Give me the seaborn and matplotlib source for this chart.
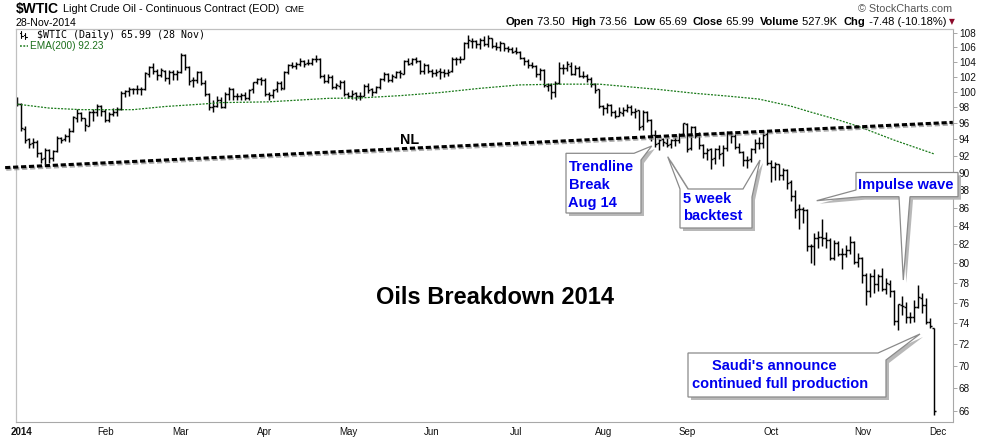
import numpy as np
import pandas as pd
import seaborn as sns
import matplotlib.pyplot as plt
import matplotlib.patheffects as pe
from matplotlib.lines import Line2D
from matplotlib.patches import Polygon
from matplotlib.ticker import FixedLocator, FixedFormatter, NullLocator

W, H = 990, 438

# $WTIC daily bars, 31-Dec-2013 .. 28-Nov-2014, one line per month
opens = [
    99.2,
    98.4, 95.3, 94.0, 93.6, 93.7, 92.3, 91.7, 92.7, 91.8, 92.6, 94.2, 94.0, 94.4, 95.0, 96.7, 97.3, 96.6, 95.7, 97.4, 97.4, 98.2,
    97.5, 96.4, 97.2, 97.4, 97.8, 99.9, 100.1, 100.4, 100.4, 100.3, 100.3, 102.4, 103.3, 102.7, 102.2, 102.8, 101.8, 102.6, 102.4,
    102.6, 104.9, 103.3, 101.5, 101.6, 102.6, 101.1, 99.7, 98.0, 98.2, 98.9, 98.1, 99.7, 100.4, 99.5, 99.5, 99.6, 99.2, 100.3, 101.3, 101.7,
    101.6, 99.7, 99.6, 100.3, 101.1, 100.4, 102.6, 103.6, 103.4, 103.7, 104.1, 103.8, 103.8, 104.3, 104.4, 102.1, 101.4, 101.9, 100.6, 100.8, 101.3,
    99.7, 99.4, 99.8, 99.5, 99.5, 100.8, 100.3, 100.0, 100.6, 101.7, 102.4, 101.5, 102.0, 102.6, 102.4, 104.1, 103.8, 104.4, 104.1, 102.7, 103.6,
    102.7, 102.5, 102.7, 102.6, 102.5, 102.7, 104.4, 104.4, 104.4, 106.5, 106.9, 106.9, 106.4, 107.0, 106.4, 107.3, 106.2, 106.0, 106.5, 105.8, 105.7,
    105.4, 105.3, 104.5, 104.1, 103.5, 103.4, 102.3, 102.9, 100.8, 100.9, 100.0, 101.2, 103.2, 103.1, 103.4, 102.4, 103.1, 102.1, 102.1, 101.7, 101.0, 100.3,
    98.2, 97.9, 98.3, 97.4, 96.9, 97.3, 97.7, 98.1, 97.4, 97.6, 95.6, 97.4, 96.4, 94.5, 93.5, 94.0, 93.6, 93.4, 93.9, 93.9, 94.6,
    95.9, 92.9, 95.5, 94.5, 93.3, 92.3, 92.8, 91.7, 92.8, 92.3, 92.9, 94.9, 94.4, 93.1, 92.4, 91.5, 91.6, 92.8, 93.6, 93.5, 94.6,
    91.2, 90.7, 91.0, 89.7, 90.3, 88.9, 87.3, 85.8, 85.8, 85.7, 81.8, 81.8, 82.7, 82.8, 82.7, 82.5, 80.5, 82.1, 81.0, 81.0, 81.4, 82.2, 80.1,
    80.5, 78.8, 77.2, 78.7, 77.9, 78.7, 77.4, 77.9, 77.2, 74.2, 75.8, 75.6, 74.6, 74.6, 75.6, 76.5, 75.8, 74.1, 73.5,
]
highs = [
    99.3,
    98.6, 95.6, 94.2, 94.2, 93.9, 92.5, 92.9, 92.8, 92.7, 94.4, 94.3, 94.6, 95.4, 96.9, 97.8, 97.4, 96.7, 97.5, 97.8, 98.4, 98.3,
    97.8, 97.4, 97.9, 98.0, 100.1, 100.2, 100.6, 100.5, 100.9, 100.6, 102.6, 103.4, 103.8, 103.0, 103.2, 102.9, 102.9, 102.9, 102.9,
    105.2, 105.0, 103.4, 101.9, 102.8, 102.7, 101.5, 99.8, 99.0, 99.4, 99.3, 100.0, 100.6, 100.5, 99.8, 99.9, 100.0, 100.4, 101.3, 101.8, 101.9,
    101.8, 100.0, 100.4, 101.4, 101.4, 102.7, 103.7, 104.0, 104.0, 104.5, 104.2, 104.3, 104.5, 104.9, 104.5, 102.3, 102.3, 102.2, 101.2, 101.5, 101.5,
    100.0, 100.2, 100.0, 100.0, 101.0, 101.1, 100.5, 100.8, 101.8, 102.6, 102.5, 102.3, 102.8, 102.9, 104.2, 104.5, 104.5, 104.6, 104.2, 103.8, 103.7,
    103.0, 103.0, 103.1, 103.0, 103.0, 104.7, 104.6, 104.8, 106.7, 107.7, 107.2, 107.0, 107.2, 107.5, 107.7, 107.3, 106.7, 106.8, 106.6, 106.2, 106.0,
    106.0, 105.5, 104.6, 104.3, 104.0, 103.5, 103.2, 103.0, 101.2, 101.2, 101.4, 103.9, 103.7, 104.1, 104.0, 103.6, 103.4, 102.7, 102.4, 101.9, 101.2, 100.3,
    98.3, 98.6, 98.4, 97.6, 98.1, 98.1, 98.4, 98.3, 97.9, 97.7, 97.6, 97.5, 96.5, 95.1, 94.0, 94.1, 94.1, 94.0, 94.3, 94.8, 96.0,
    96.0, 95.6, 95.6, 94.9, 93.4, 93.0, 92.9, 93.0, 93.3, 93.3, 95.0, 95.0, 94.6, 93.5, 92.6, 92.0, 93.0, 94.0, 94.3, 95.2, 94.9,
    91.5, 91.3, 91.0, 90.6, 90.4, 89.2, 88.0, 86.4, 86.1, 85.9, 82.0, 83.2, 83.4, 84.7, 83.3, 82.7, 82.4, 82.3, 81.6, 81.9, 82.9, 82.3, 81.1,
    80.6, 79.0, 79.0, 79.4, 78.9, 79.5, 78.5, 78.3, 77.3, 75.9, 76.7, 76.1, 75.1, 76.3, 77.8, 77.0, 76.5, 74.5, 73.56,
]
lows = [
    98.2,
    95.0, 93.6, 92.9, 93.0, 91.9, 91.2, 91.0, 91.2, 91.4, 92.4, 93.5, 93.8, 93.7, 94.9, 96.2, 96.3, 95.0, 95.6, 96.3, 96.9, 96.9,
    96.1, 96.2, 96.9, 96.9, 97.6, 99.3, 99.4, 99.7, 99.7, 99.6, 100.2, 102.0, 102.3, 101.6, 101.9, 101.4, 101.0, 101.6, 101.6,
    102.5, 102.9, 100.9, 100.6, 101.1, 100.9, 99.5, 97.7, 97.4, 98.1, 97.9, 97.9, 99.0, 99.0, 98.9, 98.9, 98.9, 99.0, 99.8, 101.0, 100.9,
    99.5, 98.9, 99.2, 100.0, 100.2, 100.4, 102.3, 103.1, 103.0, 103.4, 103.3, 103.5, 103.6, 103.9, 101.8, 101.2, 101.1, 100.4, 100.3, 100.4, 99.5,
    99.2, 99.1, 98.9, 98.9, 99.4, 99.8, 99.5, 99.8, 100.4, 101.4, 101.3, 101.3, 101.8, 101.8, 102.3, 103.5, 103.6, 103.8, 102.4, 102.4, 102.5,
    102.0, 102.1, 101.7, 102.0, 102.1, 102.6, 103.6, 103.8, 104.3, 105.8, 105.9, 105.9, 105.7, 106.1, 106.0, 105.9, 105.6, 105.4, 105.4, 105.3, 105.2,
    105.0, 104.3, 103.6, 103.2, 103.1, 102.0, 101.6, 100.6, 100.1, 99.1, 99.3, 101.0, 102.3, 102.8, 102.2, 102.2, 101.9, 101.8, 101.3, 100.6, 99.9, 97.9,
    97.0, 97.3, 96.9, 96.6, 96.9, 96.9, 97.4, 97.0, 96.6, 95.1, 95.2, 96.2, 93.8, 93.1, 92.7, 93.2, 93.1, 92.9, 93.2, 93.5, 94.4,
    92.5, 92.7, 94.1, 92.8, 91.7, 91.5, 90.4, 91.0, 91.6, 90.8, 92.6, 93.5, 92.8, 92.3, 90.8, 90.5, 91.3, 92.3, 92.8, 92.9, 90.9,
    88.9, 89.2, 89.1, 89.2, 88.1, 86.8, 84.9, 83.6, 84.3, 81.3, 80.0, 79.8, 81.6, 81.8, 81.6, 80.3, 80.3, 80.7, 79.4, 80.6, 81.0, 79.9, 79.6,
    78.0, 75.8, 76.6, 77.0, 77.2, 77.2, 76.9, 76.6, 73.8, 73.3, 74.8, 74.0, 74.0, 74.1, 75.5, 75.0, 73.9, 73.5, 65.69,
]
closes = [
    98.42,
    95.44, 93.96, 93.43, 93.67, 92.33, 91.66, 92.72, 91.80, 92.59, 94.17, 93.96, 94.37, 94.99, 96.73, 97.32, 96.64, 95.72, 97.41, 97.36, 98.23, 97.49,
    96.43, 97.19, 97.38, 97.84, 99.88, 100.06, 100.38, 100.37, 100.35, 100.30, 102.43, 103.31, 102.75, 102.20, 102.82, 101.83, 102.59, 102.40, 102.59,
    104.92, 103.33, 101.45, 101.56, 102.58, 101.12, 99.69, 97.99, 98.20, 98.89, 98.08, 99.70, 100.37, 99.46, 99.46, 99.60, 99.19, 100.26, 101.28, 101.67, 101.58,
    99.74, 99.62, 100.29, 101.14, 100.44, 102.56, 103.60, 103.40, 103.74, 104.05, 103.75, 103.76, 104.30, 104.38, 102.13, 101.44, 101.94, 100.60, 100.84, 101.28, 99.74,
    99.42, 99.76, 99.48, 99.50, 100.77, 100.26, 99.99, 100.59, 101.70, 102.37, 101.50, 102.02, 102.61, 102.44, 104.07, 103.75, 104.35, 104.11, 102.72, 103.58, 102.71,
    102.47, 102.66, 102.64, 102.48, 102.66, 104.41, 104.35, 104.40, 106.53, 106.91, 106.90, 106.36, 106.97, 106.43, 107.26, 106.17, 106.03, 106.50, 105.84, 105.74, 105.37,
    105.34, 104.48, 104.06, 103.53, 103.40, 102.29, 102.93, 100.83, 100.91, 99.96, 101.20, 103.19, 103.13, 103.70, 102.39, 103.12, 102.07, 102.09, 101.67, 100.97, 100.27, 98.17,
    97.88, 98.29, 97.38, 96.92, 97.34, 97.65, 98.08, 97.37, 97.59, 95.58, 97.35, 96.41, 94.48, 93.45, 93.96, 93.65, 93.35, 93.86, 93.88, 94.55, 95.96,
    92.88, 95.54, 94.45, 93.29, 92.29, 92.75, 91.67, 92.83, 92.27, 92.92, 94.88, 94.42, 93.07, 92.41, 91.52, 91.56, 92.80, 93.60, 93.54, 94.57, 91.16,
    90.73, 91.01, 89.74, 90.34, 88.85, 87.31, 85.77, 85.82, 85.74, 81.84, 81.78, 82.70, 82.75, 82.71, 82.49, 80.52, 82.09, 81.01, 81.00, 81.42, 82.20, 80.12, 80.54,
    78.78, 77.19, 78.68, 77.91, 78.65, 77.40, 77.94, 77.18, 74.21, 75.82, 75.64, 74.61, 74.58, 75.58, 76.51, 75.78, 74.09, 73.69, 65.99,
]

# EMA(200) at a handful of bars
ema_bar = [0, 8, 16, 23, 29, 37, 46, 51, 63, 78, 86, 96, 106, 116, 126, 136, 146, 161, 170, 178, 186, 194, 199, 206, 211, 220, 230]
ema_val = [98.4, 97.9, 97.7, 97.7, 97.7, 98.1, 98.4, 98.6, 98.7, 99.15, 99.2, 99.5, 99.9, 100.45, 100.9, 101.0, 101.0,
           100.3, 99.8, 99.45, 99.06, 98.16, 97.4, 96.4, 95.6, 93.9, 92.23]

# neckline end points (bar index, price)
nl_bar = [-3.1, 234.7]
nl_price = [90.6, 96.1]

holidays = ['2014-01-01', '2014-01-20', '2014-02-17', '2014-04-18',
            '2014-05-26', '2014-07-04', '2014-09-01', '2014-11-27']
month_names = ['2014', 'Feb', 'Mar', 'Apr', 'May', 'Jun', 'Jul', 'Aug', 'Sep', 'Oct', 'Nov', 'Dec']
price_ticks = list(range(66, 110, 2))

dates = pd.bdate_range('2013-12-31', '2014-11-28').difference(pd.to_datetime(holidays))
bars = pd.DataFrame({'date': dates, 'open': opens, 'high': highs, 'low': lows, 'close': closes})
bars['i'] = np.arange(len(bars))
ema = pd.DataFrame({'i': ema_bar, 'ema': ema_val})

# first trading day of every month (Dec 2014 would be the next bar)
firsts = bars[bars.date.dt.year == 2014].groupby(bars.date.dt.month).i.first().tolist()
firsts.append(len(bars))

sns.set_theme(style='white')
plt.rcParams['font.family'] = ['Liberation Sans', 'DejaVu Sans']
plt.rcParams['text.color'] = 'black'

fig = plt.figure(figsize=(W / 100, H / 100), dpi=100)
ax = fig.add_axes([16 / W, 1 - 421.7 / H, (952.7 - 16) / W, (421.7 - 28.5) / H])
ax.set_yscale('log')

bar_kw = dict(color='black', lw=1.05)
ax.vlines(bars.i, bars.low, bars.high, **bar_kw)
ax.hlines(bars.open, bars.i - 0.5, bars.i, **bar_kw)
ax.hlines(bars.close, bars.i, bars.i + 0.5, **bar_kw)

sns.lineplot(data=ema, x='i', y='ema', ax=ax, color='#1a7a1a', lw=0.9,
             linestyle=(0, (1.6, 1.1)), legend=False)

ax.plot(nl_bar, nl_price, color='black', lw=2.2, linestyle=(0, (1.7, 0.9)), clip_on=False, zorder=5,
        path_effects=[pe.SimpleLineShadow(offset=(0.8, -1.2), shadow_color='#888888', alpha=0.7), pe.Normal()])

ax.set_xlim(-0.376, 234.68)
ax.set_ylim(65.08, 108.59)
ax.set_xlabel('')
ax.set_ylabel('')

ax.yaxis.tick_right()
ax.yaxis.set_major_locator(FixedLocator(price_ticks))
ax.yaxis.set_major_formatter(FixedFormatter([str(v) for v in price_ticks]))
ax.yaxis.set_minor_locator(NullLocator())
ax.tick_params(axis='y', which='major', right=True, length=3, width=0.6, color='#999999',
               labelsize=7.2, pad=1.5, labelcolor='#111111')

ax.xaxis.set_major_locator(FixedLocator(firsts))
ax.xaxis.set_major_formatter(FixedFormatter(month_names))
ax.xaxis.set_minor_locator(NullLocator())
ax.tick_params(axis='x', which='major', bottom=True, length=0, labelsize=7, pad=3.5, labelcolor='#111111')
ax.get_xticklabels()[0].set_fontweight('bold')

for side in ['left', 'top']:
    ax.spines[side].set_color('#c0c0c0')
    ax.spines[side].set_linewidth(0.9)
for side in ['right', 'bottom']:
    ax.spines[side].set_color('#a8a8a8')
    ax.spines[side].set_linewidth(0.8)
    ax.spines[side].set_linestyle((0, (1, 1)))


def fx(x, y):
    return x / W, 1 - y / H


r = fig.canvas.get_renderer()


def run_text(x, y, pieces):
    # lay text pieces out one after another on a line
    for s, size, weight, gap in pieces:
        t = fig.text(*fx(x, y), s.replace(' ', '\u00a0'), fontsize=size, fontweight=weight, va='center')
        x += t.get_window_extent(renderer=r).width + gap
    return x


# header
run_text(16, 9.5, [('$WTIC', 10, 'bold', 4), ('Light Crude Oil - Continuous Contract (EOD)', 7.8, 'normal', 5),
                   ('CME', 6.5, 'normal', 0)])
fig.text(*fx(16, 23), '28-Nov-2014', fontsize=7.6, va='center')
fig.text(*fx(952, 9), '\u00a9 StockCharts.com', fontsize=7.8, va='center', ha='right', color='#555555')

x = run_text(506, 22, [('Open', 8, 'bold', 0), (' 73.50  ', 8, 'normal', 0), ('High', 8, 'bold', 0),
                       (' 73.56  ', 8, 'normal', 0), ('Low', 8, 'bold', 0), (' 65.69  ', 8, 'normal', 0),
                       ('Close', 8, 'bold', 0), (' 65.99  ', 8, 'normal', 0), ('Volume', 8, 'bold', 0),
                       (' 527.9K  ', 8, 'normal', 0), ('Chg', 8, 'bold', 0), (' -7.48 (-10.18%) ', 8, 'normal', 0)])
fig.text(*fx(x, 22), '\u25bc', fontsize=5.5, va='center', color='#8b0a2a', family='DejaVu Sans')

# in-chart legend
fig.text(*fx(37, 35), '$WTIC (Daily) 65.99 (28 Nov)', fontsize=7.2, va='center', family='DejaVu Sans Mono')
fig.text(*fx(30, 46), 'EMA(200) 92.23', fontsize=7.2, va='center', color='#1a6e1a')
fig.add_artist(Line2D([20 / W, 28 / W], [1 - 46 / H] * 2, color='#1a7a1a', lw=1.1, linestyle=(0, (1.2, 1.0))))
for gx, top, bot in [(21, 31, 38), (25, 33, 39)]:
    fig.add_artist(Line2D([gx / W] * 2, [1 - top / H, 1 - bot / H], color='black', lw=0.8))
    fig.add_artist(Line2D([(gx - 1.5) / W, gx / W], [1 - (top + 2) / H] * 2, color='black', lw=0.8))
    fig.add_artist(Line2D([gx / W, (gx + 1.5) / W], [1 - (bot - 2) / H] * 2, color='black', lw=0.8))

fig.text(*fx(410, 140), 'NL', fontsize=10.3, fontweight='bold', ha='center', va='center')
fig.text(*fx(495, 298), 'Oils Breakdown 2014', fontsize=17, fontweight='bold', ha='center', va='center')


def callout(pts, lines):
    shadow = [fx(px + 3, py + 3) for px, py in pts]
    fig.add_artist(Polygon(shadow, closed=True, facecolor='#b8b8b8', edgecolor='none', zorder=3))
    fig.add_artist(Polygon([fx(px, py) for px, py in pts], closed=True, facecolor='white',
                           edgecolor='#8a8a8a', lw=0.9, zorder=4))
    for lx, ly, s in lines:
        fig.text(*fx(lx, ly), s, fontsize=10.5, fontweight='bold', color='#0000ee', va='center', zorder=5)


callout([(566, 153.3), (634, 153.3), (651.7, 146), (641, 160), (641, 213), (566, 213)],
        [(568.5, 166.7, 'Trendline'), (568.5, 185, 'Break'), (568.5, 203.3, 'Aug 14')])
callout([(680, 189), (667.7, 156.7), (688, 189), (743, 189), (760, 160), (752, 197), (752, 228), (680, 228)],
        [(683, 198.5, '5 week'), (683, 216.5, 'backtest')])
callout([(856, 172.5), (958, 172.5), (958, 196.7), (910, 196.7), (903.3, 280), (899, 196.7),
         (862, 196.7), (816.7, 200.7), (856, 190)],
        [(858.5, 184.5, 'Impulse wave')])
callout([(688, 353), (878, 353), (920, 334), (886, 360), (886, 397), (688, 397)],
        [(711.7, 365.7, "Saudi's announce"), (691.7, 384.3, 'continued full production')])

fig.savefig('out.png', dpi=100)
